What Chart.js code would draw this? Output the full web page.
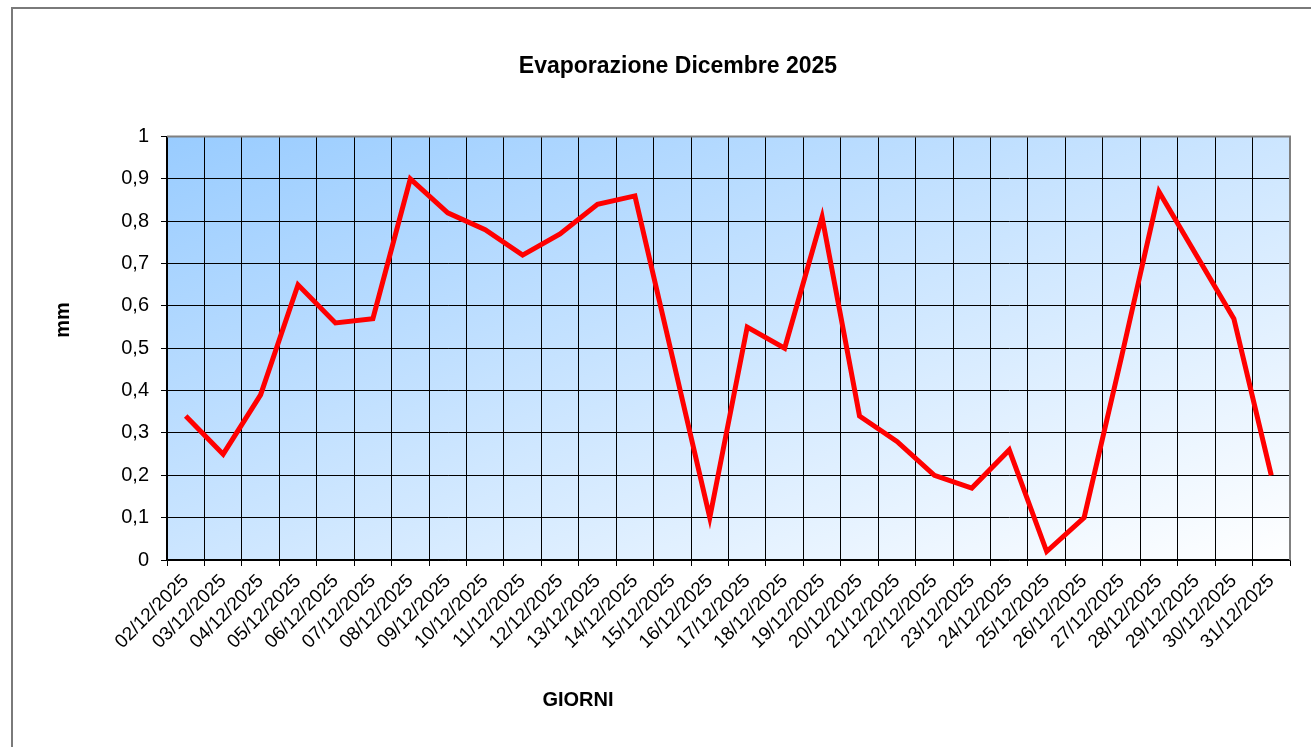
<!DOCTYPE html>
<html lang="it">
<head>
    <meta charset="UTF-8">
    <title>Evaporazione Dicembre 2025</title>
    <script src="https://cdn.jsdelivr.net/npm/chart.js"></script>
    <style>
        body {
            margin: 0;
            background: #fff;
            overflow: hidden;
        }

        .frame {
            position: absolute;
            left: 11px;
            top: 7px;
            width: 1400px;
            height: 800px;
            border: 2px solid #7a7a7a;
        }

        #evapChart {
            position: absolute;
            left: 0;
            top: 0;
        }
    </style>
</head>
<body>
    <div class="frame"></div>
    <canvas id="evapChart" width="1311" height="747"></canvas>

    <script>
        const giorni = [
            "02/12/2025", "03/12/2025", "04/12/2025", "05/12/2025", "06/12/2025",
            "07/12/2025", "08/12/2025", "09/12/2025", "10/12/2025", "11/12/2025",
            "12/12/2025", "13/12/2025", "14/12/2025", "15/12/2025", "16/12/2025",
            "17/12/2025", "18/12/2025", "19/12/2025", "20/12/2025", "21/12/2025",
            "22/12/2025", "23/12/2025", "24/12/2025", "25/12/2025", "26/12/2025",
            "27/12/2025", "28/12/2025", "29/12/2025", "30/12/2025", "31/12/2025"
        ];
        const evaporazione = [
            0.34, 0.25, 0.39, 0.65, 0.56, 0.57, 0.90, 0.82, 0.78, 0.72,
            0.77, 0.84, 0.86, 0.48, 0.10, 0.55, 0.50, 0.81, 0.34, 0.28,
            0.20, 0.17, 0.26, 0.02, 0.10, 0.48, 0.87, 0.72, 0.57, 0.20
        ];
        const yMin = 0, yMax = 1, yStep = 0.1;

        const FONT = "'Liberation Sans', Arial, sans-serif";
        Chart.defaults.font.family = FONT;
        Chart.defaults.color = "#000";

        // diagonal gradient behind the plot area (blue top-left -> white bottom-right)
        const plotBackground = {
            id: "plotBackground",
            beforeDraw(chart) {
                const { ctx, chartArea: a } = chart;
                const w = a.right - a.left, h = a.bottom - a.top;
                const gx = 1 / (2 * w), gy = 1 / (2 * h), g2 = gx * gx + gy * gy;
                const grad = ctx.createLinearGradient(a.left, a.top, a.left + gx / g2, a.top + gy / g2);
                grad.addColorStop(0, "#99ccff");
                grad.addColorStop(1, "#ffffff");
                ctx.save();
                ctx.fillStyle = grad;
                ctx.fillRect(a.left, a.top, w, h);
                ctx.restore();
            }
        };

        // grey top/right edges of the plot area
        const plotFrame = {
            id: "plotFrame",
            beforeDatasetsDraw(chart) {
                const { ctx, chartArea: a } = chart;
                ctx.save();
                ctx.strokeStyle = "#808080";
                ctx.lineWidth = 2;
                ctx.beginPath();
                ctx.moveTo(a.left, a.top);
                ctx.lineTo(a.right, a.top);
                ctx.lineTo(a.right, a.bottom);
                ctx.stroke();
                ctx.restore();
            }
        };

        // axis titles sit off-centre in the original, so they are placed here
        const axisTitles = {
            id: "axisTitles",
            afterDraw(chart) {
                const { ctx } = chart;
                ctx.save();
                ctx.fillStyle = "#000";
                ctx.font = "bold 20px " + FONT;
                ctx.textAlign = "center";
                ctx.textBaseline = "middle";
                ctx.fillText("GIORNI", 578, 700);
                ctx.translate(63, 320);
                ctx.rotate(-Math.PI / 2);
                ctx.fillText("mm", 0, 0);
                ctx.restore();
            }
        };

        new Chart(document.getElementById("evapChart"), {
            type: "line",
            data: {
                labels: giorni,
                datasets: [{
                    label: "Evaporazione",
                    data: evaporazione,
                    borderColor: "#ff0000",
                    borderWidth: 5,
                    pointRadius: 0,
                    tension: 0,
                    fill: false
                }]
            },
            options: {
                responsive: false,
                animation: false,
                layout: { padding: { left: 66, right: 21, top: 0, bottom: 0 } },
                plugins: {
                    legend: { display: false },
                    tooltip: { enabled: false },
                    title: {
                        display: true,
                        text: "Evaporazione Dicembre 2025",
                        color: "#000",
                        font: { size: 23, weight: "bold" },
                        padding: { top: 53, bottom: 56 }
                    }
                },
                scales: {
                    x: {
                        offset: true,
                        grid: { offset: true, color: "#000", lineWidth: 1, tickLength: 6 },
                        border: { color: "#000", width: 1.5 },
                        ticks: {
                            autoSkip: false,
                            maxRotation: 45,
                            minRotation: 45,
                            padding: 4,
                            font: { size: 19 }
                        },
                        afterFit(scale) { scale.height = 187; }
                    },
                    y: {
                        min: yMin,
                        max: yMax,
                        grid: { color: "#000", lineWidth: 1, tickLength: 6 },
                        border: { color: "#000", width: 1.5 },
                        ticks: {
                            stepSize: yStep,
                            padding: 12,
                            font: { size: 20 },
                            callback: v => String(Math.round(v * 10) / 10).replace(".", ",")
                        },
                        afterFit(scale) { scale.width = 101; }
                    }
                }
            },
            plugins: [plotBackground, plotFrame, axisTitles]
        });
    </script>
</body>
</html>
